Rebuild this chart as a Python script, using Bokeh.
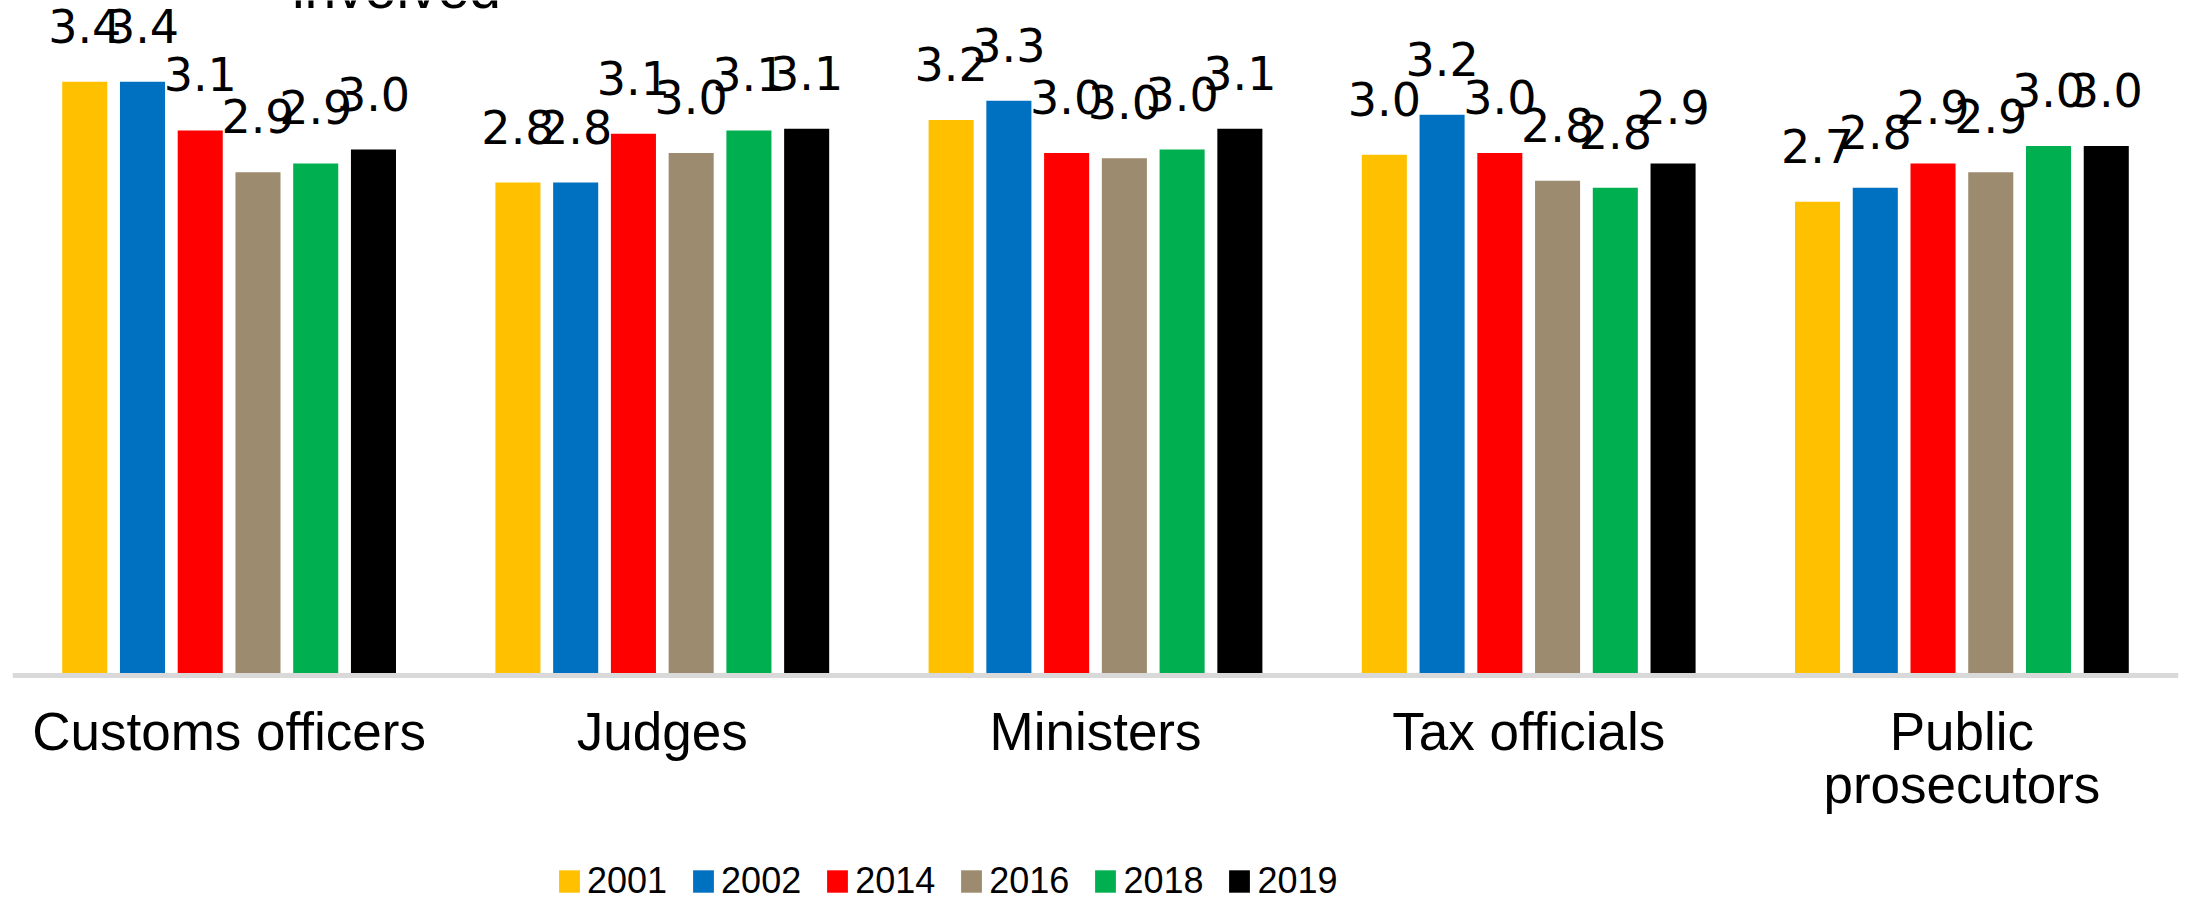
from bokeh.plotting import figure
from bokeh.models import FactorRange, Range1d, ColumnDataSource, Legend, LegendItem, Label
from bokeh.transform import dodge
from bokeh.core.properties import value
from bokeh.embed import file_html
from bokeh.resources import INLINE

# ---- data ----
categories = ["Customs officers", "Judges", "Ministers", "Tax officials", "Public\nprosecutors"]
years = ["2001", "2002", "2014", "2016", "2018", "2019"]
v2001 = [3.41, 2.83, 3.19, 2.99, 2.72]
v2002 = [3.41, 2.83, 3.30, 3.22, 2.80]
v2014 = [3.13, 3.11, 3.00, 3.00, 2.94]
v2016 = [2.89, 3.00, 2.97, 2.84, 2.89]
v2018 = [2.94, 3.13, 3.02, 2.80, 3.04]
v2019 = [3.02, 3.14, 3.14, 2.94, 3.04]
colors = ["#FFC000", "#0070C0", "#FF0000", "#9C8B6E", "#00B050", "#000000"]
title_fragment = "involved"

series = [v2001, v2002, v2014, v2016, v2018, v2019]

data = {"cat": categories}
for yr, vals in zip(years, series):
    data["v" + yr] = vals
    data["t" + yr] = [f"{v:.1f}" for v in vals]
src = ColumnDataSource(data)

FONT = "Liberation Sans"
W, H = 2185, 902
BASE = 674.5          # pixel row of the value-axis zero line
PX_PER_UNIT = 174.0

p = figure(
    x_range=FactorRange(factors=categories, range_padding=0),
    y_range=Range1d(-(H - BASE) / PX_PER_UNIT, BASE / PX_PER_UNIT),
    width=W, height=H,
    output_backend="svg", toolbar_location=None,
    y_axis_location=None,
    min_border_left=12, min_border_right=7, min_border_top=0, min_border_bottom=0,
)
p.xgrid.visible = False
p.ygrid.visible = False
p.outline_line_color = None
p.background_fill_color = "white"
p.border_fill_color = "white"

ax = p.xaxis[0]
ax.fixed_location = 0
ax.axis_line_color = "#D9D9D9"
ax.axis_line_width = 5
ax.major_tick_line_color = None
ax.minor_tick_line_color = None
ax.major_tick_out = 0
ax.major_tick_in = 0
ax.major_label_standoff = 27
ax.major_label_text_font = FONT
ax.major_label_text_font_size = "53px"
ax.major_label_text_line_height = 0.9
ax.major_label_text_color = "black"

pitch = 0.1333
bar_w = 0.104
items = []
for i, (yr, c) in enumerate(zip(years, colors)):
    off = (i - 2.5) * pitch
    r = p.vbar(x=dodge("cat", off, range=p.x_range), top="v" + yr, width=bar_w,
               source=src, fill_color=c, line_color=None)
    items.append(LegendItem(label=yr, renderers=[r]))
for i, yr in enumerate(years):
    off = (i - 2.5) * pitch
    p.text(x=dodge("cat", off, range=p.x_range), y="v" + yr, text="t" + yr, source=src,
           text_align="center", text_baseline="alphabetic", y_offset=-56,
           text_font=value("DejaVu Sans"), text_font_size="46px", text_color="black")

legend = Legend(
    items=items, orientation="horizontal", location=(544, 0),
    glyph_width=26, glyph_height=28, label_standoff=5, spacing=23,
    padding=0, margin=0, border_line_color=None, background_fill_alpha=0,
    label_text_font=FONT, label_text_font_size="36px", label_text_color="black",
)
p.add_layout(legend)

p.add_layout(Label(x=384, y=H + 13, x_units="screen", y_units="screen",
                   text=title_fragment, text_align="center", text_baseline="alphabetic",
                   text_font=FONT, text_font_size="57px", text_color="black"))

open("out.html", "w").write(file_html(p, INLINE))
